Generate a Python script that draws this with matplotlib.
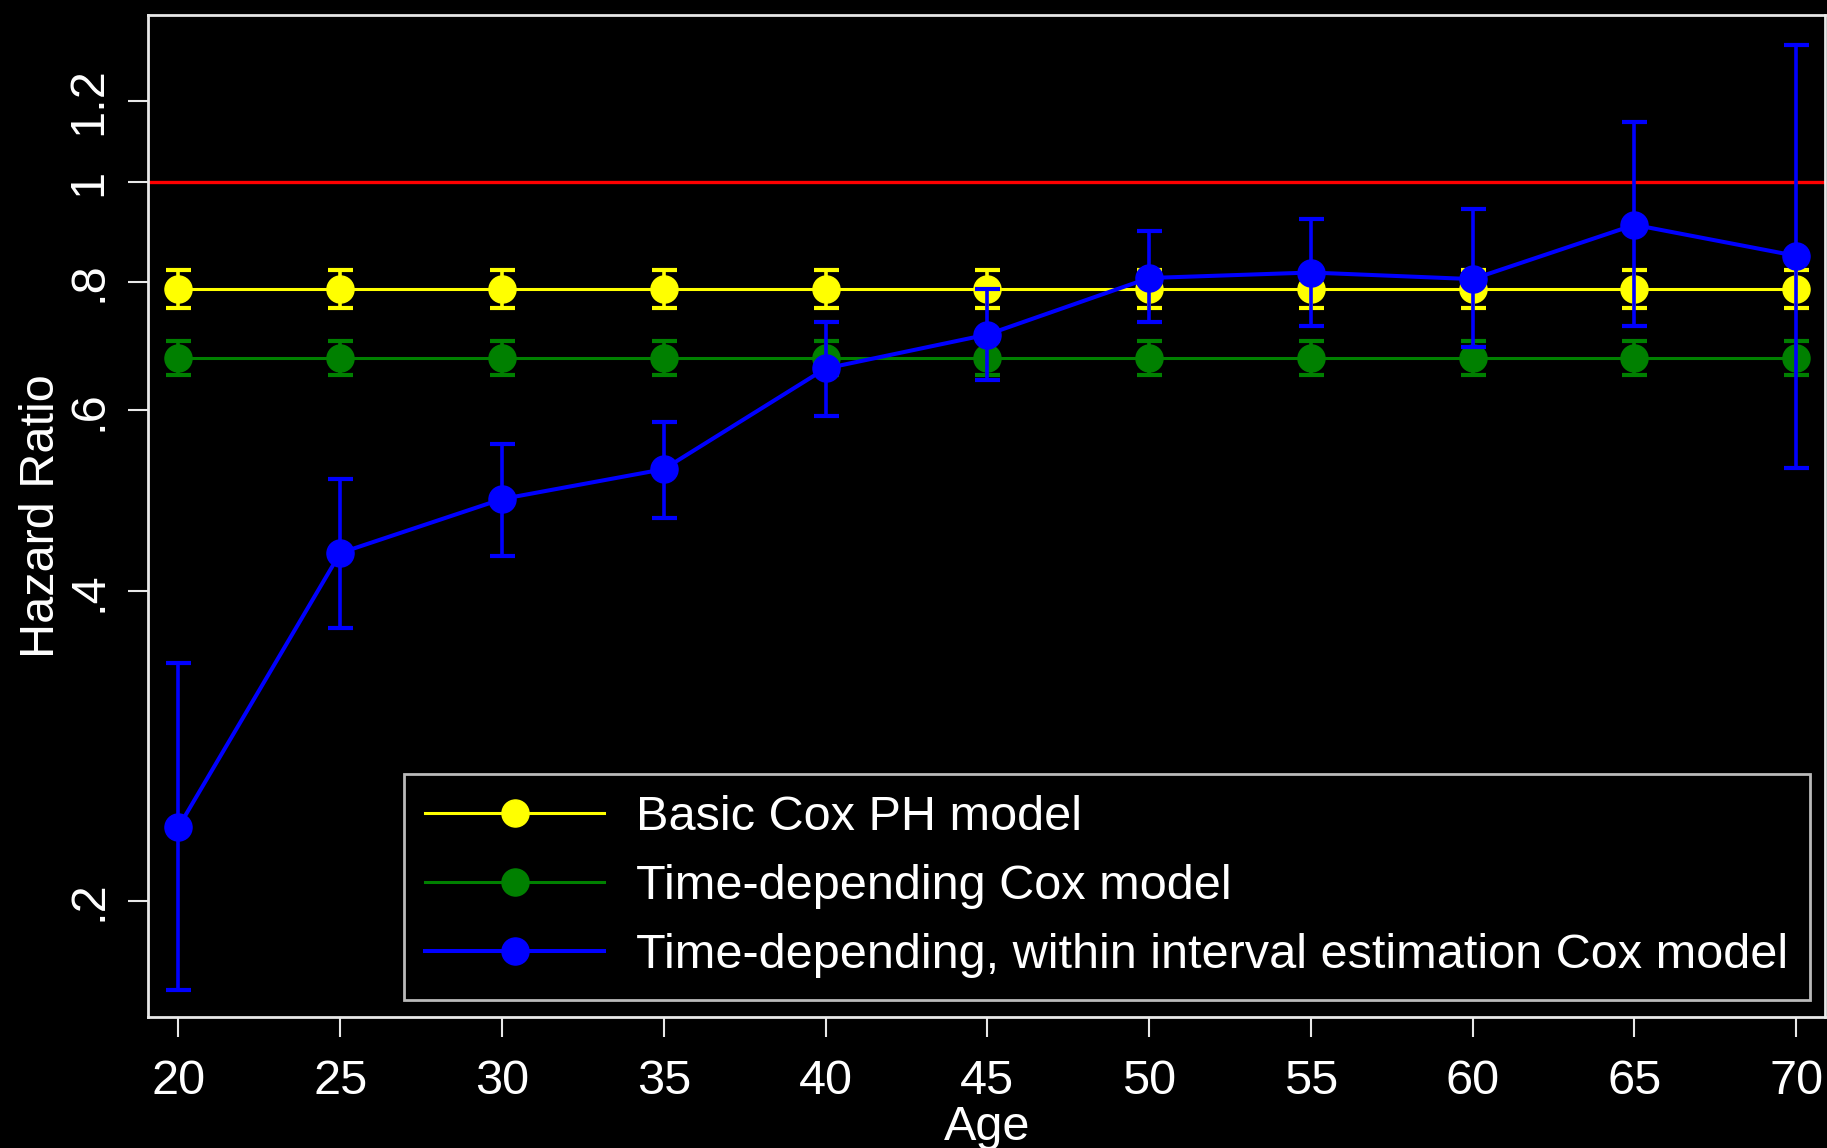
import matplotlib
matplotlib.use("Agg")
import matplotlib.pyplot as plt
from matplotlib.ticker import NullLocator

plt.rcParams['font.family'] = ['Liberation Sans', 'DejaVu Sans']

# ages
age = [20, 25, 30, 35, 40, 45, 50, 55, 60, 65, 70]

# Basic Cox PH model (constant)
basic_hr = [0.787] * 11
basic_lo = [0.755] * 11
basic_hi = [0.822] * 11

# Time-depending Cox model (constant)
td_hr = [0.674] * 11
td_lo = [0.649] * 11
td_hi = [0.701] * 11

# Time-depending, within interval estimation
wi_hr = [0.236, 0.436, 0.492, 0.526, 0.659, 0.711, 0.807, 0.817, 0.805, 0.909, 0.848]
wi_lo = [0.164, 0.369, 0.433, 0.472, 0.593, 0.642, 0.732, 0.724, 0.691, 0.724, 0.527]
wi_hi = [0.341, 0.514, 0.557, 0.585, 0.732, 0.787, 0.897, 0.921, 0.941, 1.144, 1.360]

labels = ["Basic Cox PH model", "Time-depending Cox model",
          "Time-depending, within interval estimation Cox model"]
yticks = [0.2, 0.4, 0.6, 0.8, 1, 1.2]
yticklabels = [".2", ".4", ".6", ".8", "1", "1.2"]
xticks = [20, 25, 30, 35, 40, 45, 50, 55, 60, 65, 70]

fs = 35
fg = '#e8e8e8'

fig = plt.figure(figsize=(18.27, 11.48), dpi=100, facecolor='black')
ax = fig.add_axes([0.0812, 0.1144, 0.9177, 0.8725], facecolor='black')

ax.axhline(1, color='#ff0000', lw=2.4, zorder=1)

series = [
    (basic_hr, basic_lo, basic_hi, '#ffff00'),
    (td_hr, td_lo, td_hi, '#008000'),
    (wi_hr, wi_lo, wi_hi, '#0000ff'),
]
order = [1, 0, 2]  # green under yellow, blue on top
for i in order:
    hr, lo, hi, col = series[i]
    yerr = [[h - l for h, l in zip(hr, lo)], [u - h for h, u in zip(hr, hi)]]
    ax.errorbar(age, hr, yerr=yerr, fmt='none', ecolor=col, elinewidth=2.6,
                capsize=9, capthick=3, zorder=2 + i)
    lw = 2.9 if i == 2 else 2.2
    ax.plot(age, hr, '-o', color=col, lw=lw, ms=19.5, zorder=3 + i)

ax.set_yscale('log')
ax.set_ylim(0.1544, 1.454)
ax.set_xlim(19.07, 70.89)
ax.yaxis.set_minor_locator(NullLocator())
ax.set_yticks(yticks)
ax.set_yticklabels(yticklabels, rotation=90, va='center')
ax.set_xticks(xticks)
ax.set_xticklabels([str(x) for x in xticks])

for s in ax.spines.values():
    s.set_color(fg)
    s.set_linewidth(2)
ax.tick_params(axis='both', colors=fg, labelcolor='white', labelsize=fs,
               length=14.4, width=1.5, direction='out')
ax.tick_params(axis='y', pad=12)
ax.tick_params(axis='x', pad=16)

ax.set_xlabel("Age", color='white', fontsize=fs, labelpad=1)
ax.set_ylabel("Hazard Ratio", color='white', fontsize=fs, labelpad=2)

handles = [plt.Line2D([], [], color=c, lw=2.2 if k < 2 else 2.9, marker='o', ms=19.5)
           for k, (_, _, _, c) in enumerate(series)]
leg = ax.legend(handles, labels, loc='lower right', bbox_to_anchor=(0.991, 0.0167),
                borderaxespad=0, fontsize=fs, frameon=True, fancybox=False,
                facecolor='black', edgecolor=fg, handlelength=3.68,
                handletextpad=0.65, labelspacing=0.49, borderpad=0.45,
                labelcolor='white')
leg.get_frame().set_linewidth(2)
leg.set_zorder(10)

fig.savefig("out.png", dpi=100, facecolor='black')
